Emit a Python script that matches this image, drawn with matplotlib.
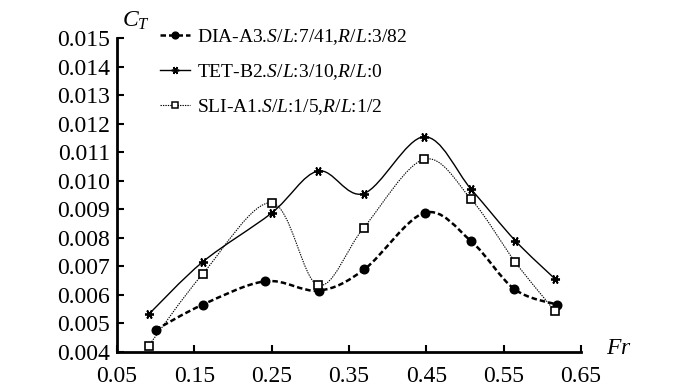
import matplotlib
matplotlib.use("Agg")
import matplotlib.pyplot as plt
from matplotlib.path import Path
from matplotlib.patches import PathPatch
from matplotlib.lines import Line2D
import numpy as np

plt.rcParams['font.family'] = ['Liberation Serif', 'DejaVu Serif']
plt.rcParams['mathtext.fontset'] = 'custom'
plt.rcParams['mathtext.rm'] = 'Liberation Serif'
plt.rcParams['mathtext.it'] = 'Liberation Serif:italic'

# Data
fr_dia = [0.100, 0.161, 0.242, 0.311, 0.370, 0.448, 0.508, 0.564, 0.619]
ct_dia = [0.00478, 0.00566, 0.00648, 0.00615, 0.00690, 0.00888, 0.00788, 0.00620, 0.00566]
fr_tet = [0.091, 0.161, 0.250, 0.310, 0.369, 0.447, 0.508, 0.565, 0.616]
ct_tet = [0.00532, 0.00716, 0.00887, 0.01034, 0.00955, 0.01154, 0.00970, 0.00790, 0.00657]
fr_sli = [0.091, 0.161, 0.250, 0.310, 0.369, 0.447, 0.508, 0.565, 0.616]
ct_sli = [0.00422, 0.00674, 0.00923, 0.00634, 0.00835, 0.01075, 0.00935, 0.00715, 0.00544]

labels = ["DIA-A3.$S/L$:7/41,$R/L$:3/82",
          "TET-B2.$S/L$:3/10,$R/L$:0",
          "SLI-A1.$S/L$:1/5,$R/L$:1/2"]
xticks = [0.05, 0.15, 0.25, 0.35, 0.45, 0.55, 0.65]
yticks = [0.004, 0.005, 0.006, 0.007, 0.008, 0.009, 0.010, 0.011, 0.012, 0.013, 0.014, 0.015]

fig = plt.figure(figsize=(6.93, 3.90), dpi=100)
ax = fig.add_axes([117/693, 1-352/390, (581-117)/693, (352-38)/390])


def smooth_path(x, y):
    p = np.column_stack([x, y]).astype(float)
    n = len(p)
    verts = [p[0]]
    codes = [Path.MOVETO]
    for i in range(n - 1):
        p0 = p[i - 1] if i > 0 else p[i]
        p1 = p[i]
        p2 = p[i + 1]
        p3 = p[i + 2] if i + 2 < n else p[i + 1]
        c1 = p1 + (p2 - p0) / 6.0
        c2 = p2 - (p3 - p1) / 6.0
        verts += [c1, c2, p2]
        codes += [Path.CURVE4] * 3
    return Path(verts, codes)


styles = [
    dict(ls=(0, (2.2, 1.2)), lw=1.8, marker='o', ms=6.2, lms=5.0, mfc='black', mew=1.0),
    dict(ls='-', lw=1.0, marker=(6, 2, 90), ms=6.5, lms=5.5, mfc='black', mew=1.3),
    dict(ls=(0, (1.2, 1.0)), lw=0.8, marker='s', ms=5.6, lms=4.6, mfc='white', mew=1.2),
]
series = [(fr_dia, ct_dia), (fr_tet, ct_tet), (fr_sli, ct_sli)]
handles = []
for (x, y), st, lab in zip(series, styles, labels):
    patch = PathPatch(smooth_path(x, y), fill=False, edgecolor='black',
                      linestyle=st['ls'], linewidth=st['lw'], zorder=2)
    ax.add_patch(patch)
    ax.plot(x, y, linestyle='none', marker=st['marker'], ms=st['ms'],
            mfc=st['mfc'], mec='black', mew=st['mew'], zorder=3)
    handles.append(Line2D([], [], color='black', linestyle=st['ls'], lw=st['lw'],
                          marker=st['marker'], ms=st['lms'], mfc=st['mfc'],
                          mec='black', mew=st['mew'] * 0.9))

ax.set_xlim(0.05, 0.65)
ax.set_ylim(0.004, 0.015)
ax.set_xticks(xticks)
ax.set_xticklabels([f"{v:.2f}" for v in xticks])
ax.set_yticks(yticks)
ax.set_yticklabels([f"{v:.3f}" for v in yticks])
for s in ['top', 'right']:
    ax.spines[s].set_visible(False)
for s in ['left', 'bottom']:
    ax.spines[s].set_linewidth(2.0)
ax.tick_params(axis='both', direction='in', length=5, width=1.5, labelsize=17)
ax.tick_params(axis='y', pad=5)
ax.tick_params(axis='x', pad=10)

fig.text(122/693, 1-21/390, "$C_T$", fontsize=17, ha='left', va='center')
fig.text(606/693, 1-349/390, "$Fr$", fontsize=17, ha='left', va='center')

leg = fig.legend(handles, labels, loc='upper left', bbox_to_anchor=(160/693, 1-27/390),
                 frameon=False, fontsize=14, handlelength=1.55, handletextpad=0.36,
                 labelspacing=0.78, borderaxespad=0, borderpad=0)

fig.savefig("out.png", dpi=100)
